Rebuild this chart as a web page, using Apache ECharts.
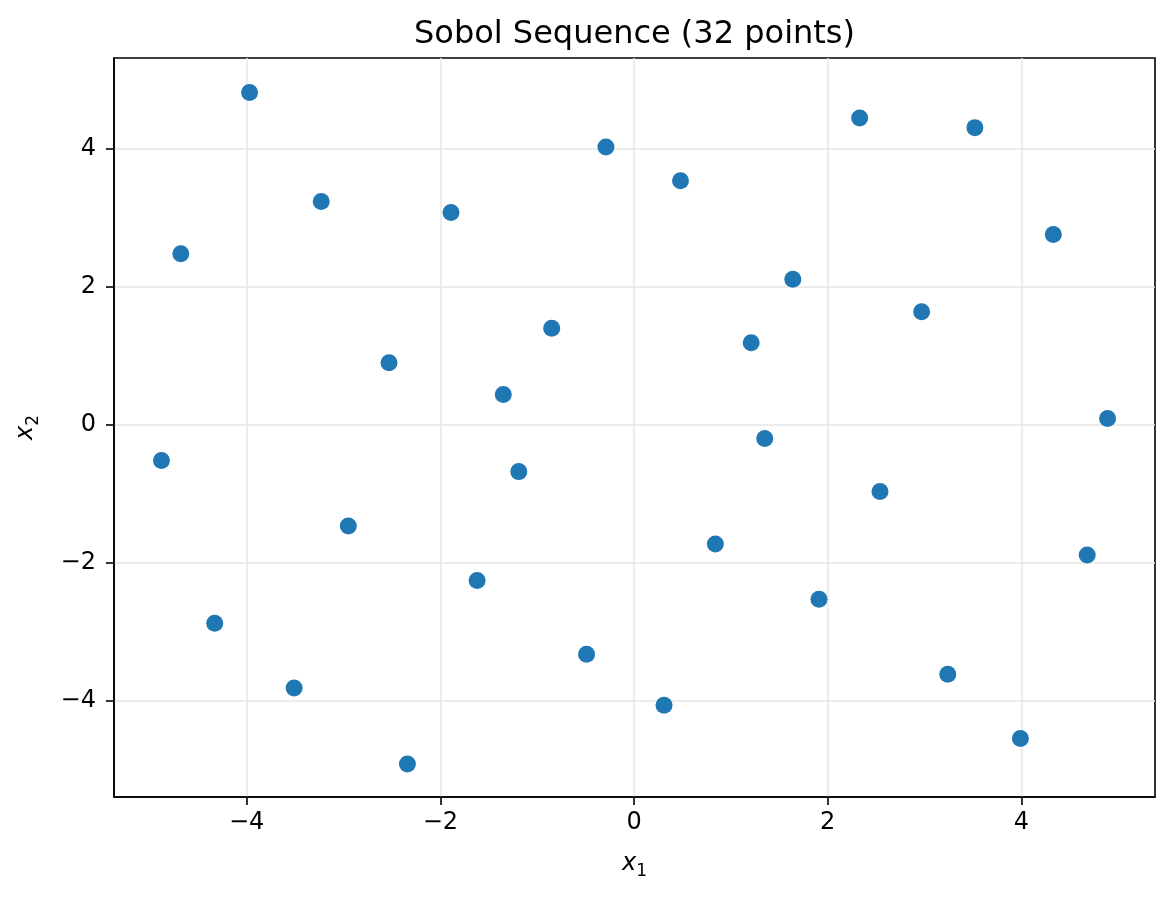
<!DOCTYPE html>
<html>
<head>
<meta charset="utf-8">
<script src="https://cdn.jsdelivr.net/npm/echarts@6/dist/echarts.min.js"></script>
<style>html,body{margin:0;padding:0;background:#fff}#c{width:1174px;height:898px}</style>
</head>
<body>
<div id="c"></div>
<script>
const titleText = 'Sobol Sequence (32 points)';
const xTicks = [-4, -2, 0, 2, 4];
const yTicks = [-4, -2, 0, 2, 4];
const xValues = [-3.97,-4.68,-3.23,-1.89,-0.29,0.48,2.33,3.52,4.33,-2.53,-0.85,1.21,1.64,2.97,-1.35,1.35,4.89,-4.88,-1.19,2.54,-2.95,0.84,4.68,-1.62,1.91,-4.33,-0.49,-3.51,3.24,0.31,3.99,-2.34];
const yValues = [4.82,2.48,3.24,3.08,4.03,3.54,4.45,4.31,2.76,0.90,1.40,1.19,2.11,1.64,0.44,-0.20,0.09,-0.52,-0.68,-0.97,-1.47,-1.73,-1.89,-2.26,-2.53,-2.88,-3.33,-3.82,-3.62,-4.07,-4.55,-4.92];
const xRange = [-5.37, 5.38];
const yRange = [-5.40, 5.32];

const points = xValues.map((x, i) => [x, yValues[i]]);
const fam = 'DejaVu Sans';
const fmt = v => (v < 0 ? '\u2212' + Math.abs(v) : String(v));
const rich = {
  i: {fontFamily: fam, fontStyle: 'italic', fontSize: 24, color: '#000', lineHeight: 28, verticalAlign: 'top'},
  s: {fontFamily: fam, fontSize: 17, color: '#000', lineHeight: 17, verticalAlign: 'bottom'}
};
const chart = echarts.init(document.getElementById('c'), null, {renderer: 'canvas'});
chart.setOption({
  animation: false,
  backgroundColor: '#fff',
  title: {text: titleText, left: 409, top: 14, textStyle: {fontFamily: fam, fontSize: 32, fontWeight: 'normal', color: '#000'}},
  grid: {left: 114, right: 19, top: 58, bottom: 101, show: true, borderColor: '#000', borderWidth: 1.6, containLabel: false},
  xAxis: {
    type: 'value', min: xRange[0], max: xRange[1], interval: 2,
    name: '{i|x}{s|1}', nameLocation: 'middle', nameGap: 55,
    nameTextStyle: {rich: rich},
    axisLine: {show: true, onZero: false, lineStyle: {color: '#000', width: 1.6}},
    axisTick: {show: true, length: 8, lineStyle: {color: '#000', width: 1.6}, customValues: xTicks},
    axisLabel: {customValues: xTicks, formatter: fmt, fontFamily: fam, fontSize: 24, color: '#000', margin: 14},
    splitLine: {show: true, lineStyle: {color: '#e6e6e6', width: 1.5}}
  },
  yAxis: {
    type: 'value', min: yRange[0], max: yRange[1], interval: 2,
    name: '{i|x}{s|2}', nameLocation: 'middle', nameGap: 72, nameRotate: 90,
    nameTextStyle: {rich: rich},
    axisLine: {show: true, onZero: false, lineStyle: {color: '#000', width: 1.6}},
    axisTick: {show: true, length: 8, lineStyle: {color: '#000', width: 1.6}, customValues: yTicks},
    axisLabel: {customValues: yTicks, formatter: fmt, fontFamily: fam, fontSize: 24, color: '#000', margin: 18},
    splitLine: {show: true, lineStyle: {color: '#e6e6e6', width: 1.5}}
  },
  series: [{
    type: 'scatter', data: points, symbol: 'circle', symbolSize: 17,
    itemStyle: {color: '#1f77b4', opacity: 1}
  }]
});
</script>
</body>
</html>
